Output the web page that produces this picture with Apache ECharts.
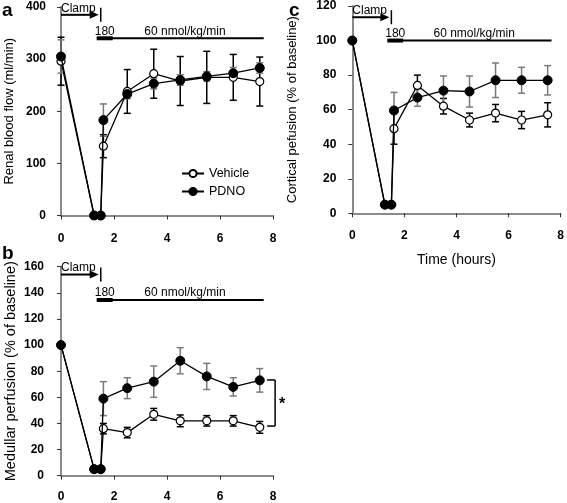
<!DOCTYPE html>
<html>
<head>
<meta charset="utf-8">
<script src="https://cdn.jsdelivr.net/npm/echarts@6/dist/echarts.min.js"></script>
<style>
  html, body { margin: 0; padding: 0; background: #fff; }
  #chart { width: 567px; height: 503px; }
</style>
</head>
<body>
<div id="chart"></div>
<script>
// ---- data ----
const hours = [0, 1.25, 1.5, 1.6, 2.5, 3.5, 4.5, 5.5, 6.5, 7.5];

const rbfVehicle    = [296, 0, 0, 133, 238, 272, 258, 265, 265, 257];
const rbfVehicleErr = [46, 0, 0, 22, 42, 47, 47, 50, 44, 47];
const rbfPdno       = [305, 0, 0, 183, 233, 253, 260, 267, 273, 283];
const rbfPdnoErr    = [32, 0, 0, 31, 9, 10, 10, 9, 11, 10];

const medVehicle    = [100, 5, 5, 36, 33, 47, 42, 42, 42, 37];
const medVehicleErr = [0, 2, 2, 4, 4, 4.5, 4.5, 4, 4, 4.5];
const medPdno       = [100, 5, 5, 59, 67, 72, 88, 76, 68, 73];
const medPdnoErr    = [0, 2, 2, 13, 8, 12, 10, 10, 7, 9];

const corVehicle    = [100, 5, 5, 49, 74, 62, 54, 58, 54, 57];
const corVehicleErr = [0, 0, 0, 9, 6, 4.5, 4, 5, 5, 7];
const corPdno       = [100, 5, 5, 59.5, 67, 71, 70.5, 77, 77, 77];
const corPdnoErr    = [0, 0, 0, 10.5, 5, 8.5, 9, 10, 7.5, 8.5];

const xTicks = [0, 2, 4, 6, 8];
const seriesNames = ['Vehicle', 'PDNO'];
const yTitles = ['Renal blood flow (ml/min)', 'Medullar perfusion (% of baseline)', 'Cortical pefusion (% of baseline)'];
const xTitle = 'Time (hours)';
const panelLetters = ['a', 'b', 'c'];

// protocol annotation (in hours)
const clampLabel = 'Clamp';
const bolusLabel = '180';
const infusionLabel = '60 nmol/kg/min';
const clampSpan = [0, 1.5];
const bolusSpan = [1.35, 1.95];
const infusionSpan = [1.35, 7.65];
const infusionLabelX = 4.68;
// per panel: [arrow y, infusion line y]
const annotA = [385, 340];
const annotB = [154, 134.5];
const annotC = [113.5, 100];
// significance bracket in panel b: [x, low, high]
const bracketB = [8.08, 38, 73.3];
const bracketLabel = '*';

// ---- helpers ----
const FONT = '"Liberation Sans", Arial, sans-serif';
const pts = (ys) => hours.map((h, i) => [h, ys[i]]);
const errs = (ys, es) => hours.map((h, i) => [h, ys[i] - es[i], ys[i] + es[i]]).filter((d, i) => es[i] > 0);

function errRender(color) {
  return function (params, api) {
    const x = api.value(0);
    const lo = api.coord([x, api.value(1)]);
    const hi = api.coord([x, api.value(2)]);
    const w = 3.5;
    const st = { stroke: color, lineWidth: 1.5 };
    return {
      type: 'group',
      children: [
        { type: 'line', shape: { x1: lo[0], y1: lo[1], x2: hi[0], y2: hi[1] }, style: st },
        { type: 'line', shape: { x1: lo[0] - w, y1: lo[1], x2: lo[0] + w, y2: lo[1] }, style: st },
        { type: 'line', shape: { x1: hi[0] - w, y1: hi[1], x2: hi[0] + w, y2: hi[1] }, style: st }
      ]
    };
  };
}

function annotRender(ann) {
  return function (params, api) {
    const a0 = api.coord([clampSpan[0], ann[0]]);
    const a1 = api.coord([clampSpan[1], ann[0]]);
    const l0 = api.coord([infusionSpan[0], ann[1]]);
    const l1 = api.coord([infusionSpan[1], ann[1]]);
    const b1 = api.coord([bolusSpan[1], ann[1]]);
    const tm = api.coord([infusionLabelX, ann[1]]);
    const tipX = a1[0] - 2;
    const font = '12px ' + FONT;
    return {
      type: 'group',
      children: [
        { type: 'line', shape: { x1: a0[0], y1: a0[1], x2: tipX - 6, y2: a0[1] }, style: { stroke: '#000', lineWidth: 2 } },
        { type: 'polygon', shape: { points: [[tipX, a0[1]], [tipX - 9, a0[1] - 4], [tipX - 9, a0[1] + 4]] }, style: { fill: '#000' } },
        { type: 'line', shape: { x1: a1[0], y1: a1[1] - 7, x2: a1[0], y2: a1[1] + 7 }, style: { stroke: '#000', lineWidth: 1.5 } },
        { type: 'text', x: a0[0], y: a0[1] - 0.5, style: { text: clampLabel, font: font, fill: '#000', align: 'left', verticalAlign: 'bottom' } },
        { type: 'line', shape: { x1: l0[0], y1: l0[1], x2: l1[0], y2: l1[1] }, style: { stroke: '#000', lineWidth: 2 } },
        { type: 'line', shape: { x1: l0[0], y1: l0[1], x2: b1[0], y2: b1[1] }, style: { stroke: '#000', lineWidth: 4 } },
        { type: 'text', x: (l0[0] + b1[0]) / 2, y: l0[1] - 1, style: { text: bolusLabel, font: font, fill: '#000', align: 'center', verticalAlign: 'bottom' } },
        { type: 'text', x: tm[0], y: l0[1] - 1, style: { text: infusionLabel, font: font, fill: '#000', align: 'center', verticalAlign: 'bottom' } }
      ]
    };
  };
}

function bracketRender(params, api) {
  const x = api.value(0);
  const lo = api.coord([x, api.value(1)]);
  const hi = api.coord([x, api.value(2)]);
  const st = { stroke: '#000', lineWidth: 1.5 };
  return {
    type: 'group',
    children: [
      { type: 'line', shape: { x1: lo[0], y1: lo[1], x2: hi[0], y2: hi[1] }, style: st },
      { type: 'line', shape: { x1: lo[0] - 8, y1: lo[1], x2: lo[0], y2: lo[1] }, style: st },
      { type: 'line', shape: { x1: hi[0] - 8, y1: hi[1], x2: hi[0], y2: hi[1] }, style: st },
      { type: 'text', x: lo[0] + 7, y: (lo[1] + hi[1]) / 2 + 2, style: { text: bracketLabel, font: 'bold 16px ' + FONT, fill: '#000', align: 'center', verticalAlign: 'middle' } }
    ]
  };
}

const grids = [
  { left: 61, top: 7, width: 212, height: 208.5 },
  { left: 61, top: 266.7, width: 212, height: 209 },
  { left: 352.3, top: 4.3, width: 211, height: 209 }
];
const yRanges = [[0, 400, 100], [0, 160, 20], [0, 120, 20]];
const yOffsets = [7, 9, 8];
const xOffsets = [7, 9, 7];
const xMargins = [10, 6, 9];
const yTitleSizes = [13, 14.5, 13];
const yTitleGaps = [38, 34, 45];

const axisLineStyle = { color: '#8a8a8a', width: 2 };

const xAxes = grids.map((g, i) => ({
  gridIndex: i, type: 'value', min: 0, max: 8, interval: 2,
  offset: xOffsets[i],
  axisLine: { show: true, lineStyle: axisLineStyle },
  axisTick: { show: true, length: 4, lineStyle: { color: '#333', width: 1 } },
  splitLine: { show: false },
  axisLabel: { color: '#000', fontWeight: 'bold', fontSize: 12, fontFamily: FONT, margin: xMargins[i],
    customValues: xTicks },
  name: i === 2 ? xTitle : '',
  nameLocation: 'middle', nameGap: 33,
  nameTextStyle: { color: '#000', fontSize: 14, fontFamily: FONT }
}));

const yAxes = grids.map((g, i) => ({
  gridIndex: i, type: 'value', min: yRanges[i][0], max: yRanges[i][1], interval: yRanges[i][2],
  offset: yOffsets[i],
  axisLine: { show: true, lineStyle: axisLineStyle },
  axisTick: { show: true, length: 4, lineStyle: { color: '#333', width: 1 } },
  splitLine: { show: false },
  axisLabel: { color: '#000', fontWeight: 'bold', fontSize: 12, fontFamily: FONT, margin: 8 },
  name: yTitles[i], nameLocation: 'middle', nameGap: yTitleGaps[i],
  nameTextStyle: { color: '#000', fontSize: yTitleSizes[i], fontFamily: FONT }
}));

const panels = [
  { veh: rbfVehicle, vehE: rbfVehicleErr, pd: rbfPdno, pdE: rbfPdnoErr, ann: annotA },
  { veh: medVehicle, vehE: medVehicleErr, pd: medPdno, pdE: medPdnoErr, ann: annotB },
  { veh: corVehicle, vehE: corVehicleErr, pd: corPdno, pdE: corPdnoErr, ann: annotC }
];

const series = [];
panels.forEach((p, i) => {
  series.push({
    name: 'errV' + i, type: 'custom', xAxisIndex: i, yAxisIndex: i, z: 1,
    renderItem: errRender('#000'), data: errs(p.veh, p.vehE), silent: true
  });
  series.push({
    name: 'errP' + i, type: 'custom', xAxisIndex: i, yAxisIndex: i, z: 1,
    renderItem: errRender('#7a7a7a'), data: errs(p.pd, p.pdE), silent: true
  });
  series.push({
    name: seriesNames[0], type: 'line', xAxisIndex: i, yAxisIndex: i, z: 3,
    data: pts(p.veh), symbol: 'circle', symbolSize: 8, showSymbol: true,
    lineStyle: { color: '#000', width: 1.3 },
    itemStyle: { color: '#fff', borderColor: '#000', borderWidth: 1.2 },
    emphasis: { disabled: true }
  });
  series.push({
    name: seriesNames[1], type: 'line', xAxisIndex: i, yAxisIndex: i, z: 4,
    data: pts(p.pd), symbol: 'circle', symbolSize: 9, showSymbol: true,
    lineStyle: { color: '#000', width: 1.3 },
    itemStyle: { color: '#000', borderColor: '#000', borderWidth: 1 },
    emphasis: { disabled: true }
  });
  series.push({
    name: 'annot' + i, type: 'custom', xAxisIndex: i, yAxisIndex: i, z: 5,
    renderItem: annotRender(p.ann), data: [[0, p.ann[0]]], silent: true, clip: false
  });
});
series.push({
  name: 'bracket', type: 'custom', xAxisIndex: 1, yAxisIndex: 1, z: 5,
  renderItem: bracketRender, data: [bracketB], silent: true, clip: false
});

const letterPos = [[2, 1], [2, 244], [289, 1]];
const option = {
  animation: false,
  backgroundColor: '#fff',
  grid: grids,
  xAxis: xAxes,
  yAxis: yAxes,
  legend: {
    data: seriesNames, orient: 'vertical', left: 176, top: 162,
    itemWidth: 22, itemHeight: 9, itemGap: 5, selectedMode: false,
    textStyle: { color: '#000', fontSize: 12.5, fontFamily: FONT }
  },
  graphic: panelLetters.map((t, i) => ({
    type: 'text', left: letterPos[i][0], top: letterPos[i][1],
    style: { text: t, font: 'bold 19px ' + FONT, fill: '#000' }
  })),
  series: series
};

const chart = echarts.init(document.getElementById('chart'), null, { renderer: 'canvas' });
chart.setOption(option);
</script>
</body>
</html>
